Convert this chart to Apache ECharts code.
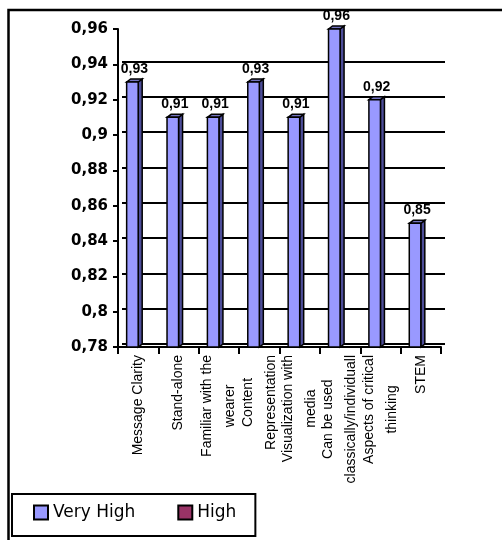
<!DOCTYPE html>
<html>
<head>
<meta charset="utf-8">
<script src="https://cdn.jsdelivr.net/npm/echarts@6/dist/echarts.min.js"></script>
<style>
  html, body { margin: 0; padding: 0; background: #fff; }
  #chart { width: 502px; height: 540px; }
</style>
</head>
<body>
<div id="chart"></div>
<script>
// Rated criteria along the category axis (line breaks mark the wrapped label lines)
const categories = [
  'Message Clarity',
  'Stand-alone',
  'Familiar with the\nwearer',
  'Content\nRepresentation',
  'Visualization with\nmedia',
  'Can be used\nclassically/individuall',
  'Aspects of critical\nthinking',
  'STEM'
];

// Share of "Very High" ratings per criterion
const veryHighValues = [0.93, 0.91, 0.91, 0.93, 0.91, 0.96, 0.92, 0.85];

// "High" ratings: no bar rises above the axis floor
const highValues = [null, null, null, null, null, null, null, null];

const seriesNames = ['Very High', 'High'];

// Value axis range and tick step
const yAxisMin = 0.78;
const yAxisMax = 0.96;
const yAxisStep = 0.02;

// Plot geometry
const PLOT = { left: 118, right: 61, top: 29, bottom: 193 };
const DEPTH = { x: 4, y: -3 };           // pseudo-3D offset of the back wall
const CHART_H = 540;

const unitPx = (CHART_H - PLOT.top - PLOT.bottom) / (yAxisMax - yAxisMin);
// The back wall carries gridlines up to one step below the axis top
const wallMax = +(yAxisMax - yAxisStep).toFixed(2);
const wallTop = PLOT.top + unitPx * yAxisStep + DEPTH.y;
const wallBottom = PLOT.bottom - DEPTH.y;

function fmt(v) {
  return String(+(+v).toFixed(2)).replace('.', ',');
}

function barRenderer(slot, fill, sideFill, topFill) {
  return function (params, api) {
    const v = api.value(1);
    if (v == null || isNaN(v)) return null;
    const i = api.value(0);
    const top = api.coord([i, v]);
    const base = api.coord([i, yAxisMin]);
    const band = api.size([1, 0])[0];
    const w = band / (2 + 1.5);
    const x0 = top[0] - w + slot * w;
    const x1 = x0 + w;
    const dx = DEPTH.x, dy = DEPTH.y;
    const edge = { stroke: '#000', lineWidth: 1.5, lineJoin: 'miter' };
    return {
      type: 'group',
      children: [
        {
          type: 'polygon',
          shape: { points: [[x1, top[1]], [x1 + dx, top[1] + dy], [x1 + dx, base[1] + dy], [x1, base[1]]] },
          style: Object.assign({ fill: sideFill }, edge)
        },
        {
          type: 'polygon',
          shape: { points: [[x0, top[1]], [x0 + dx, top[1] + dy], [x1 + dx, top[1] + dy], [x1, top[1]]] },
          style: Object.assign({ fill: topFill }, edge)
        },
        {
          type: 'rect',
          shape: { x: x0, y: top[1], width: w, height: base[1] - top[1] },
          style: Object.assign({ fill: fill }, edge)
        },
        {
          type: 'text',
          style: {
            text: fmt(v),
            x: (x0 + x1) / 2 + 2,
            y: top[1] + dy - 3,
            align: 'center',
            verticalAlign: 'bottom',
            fontFamily: '"Liberation Sans", Arial, sans-serif',
            fontWeight: 'bold',
            fontSize: 14,
            fill: '#000'
          }
        }
      ]
    };
  };
}

const chart = echarts.init(document.getElementById('chart'), null, { renderer: 'canvas' });

chart.setOption({
  animation: false,
  backgroundColor: '#fff',
  graphic: [{
    type: 'rect',
    z: -10,
    silent: true,
    shape: { x: 8.5, y: 10, width: 700, height: 700 },
    style: { fill: 'transparent', stroke: '#000', lineWidth: 2.5 }
  }],
  grid: [
    { left: PLOT.left, right: PLOT.right, top: PLOT.top, bottom: PLOT.bottom, outerBoundsMode: 'none', containLabel: false },
    { left: PLOT.left + DEPTH.x, right: PLOT.right - DEPTH.x, top: wallTop, bottom: wallBottom, outerBoundsMode: 'none', containLabel: false }
  ],
  xAxis: [
    {
      type: 'category',
      gridIndex: 0,
      data: categories,
      boundaryGap: true,
      axisLine: { show: true, lineStyle: { color: '#000', width: 2 } },
      axisTick: { show: true, interval: 0, length: 7, lineStyle: { color: '#000', width: 2 } },
      axisLabel: {
        interval: 0,
        rotate: 90,
        margin: 8,
        color: '#000',
        formatter: function (val) {
          return val.split('\n').map(function (s) { return '{c|' + s + '}'; }).join('\n');
        },
        rich: {
          c: {
            align: 'center',
            fontFamily: '"Liberation Sans", Arial, sans-serif',
            fontSize: 14,
            lineHeight: 23,
            color: '#000'
          }
        }
      },
      splitLine: { show: false }
    },
    {
      type: 'category',
      gridIndex: 1,
      data: categories,
      axisLine: { show: false },
      axisTick: { show: false },
      axisLabel: { show: false },
      splitLine: { show: false }
    }
  ],
  yAxis: [
    {
      type: 'value',
      gridIndex: 0,
      min: yAxisMin,
      max: yAxisMax,
      interval: yAxisStep,
      axisLine: { show: true, lineStyle: { color: '#000', width: 2 } },
      axisTick: { show: true, length: 5, lineStyle: { color: '#000', width: 2 } },
      axisLabel: {
        margin: 10,
        color: '#000',
        fontFamily: '"DejaVu Sans", sans-serif',
        fontWeight: 'bold',
        fontSize: 15,
        formatter: fmt
      },
      splitLine: { show: false }
    },
    {
      type: 'value',
      gridIndex: 1,
      min: yAxisMin,
      max: wallMax,
      interval: yAxisStep,
      axisLine: { show: false },
      axisTick: { show: false },
      axisLabel: { show: false },
      splitLine: { show: true, lineStyle: { color: '#000', width: 2 } }
    }
  ],
  legend: {
    data: seriesNames,
    left: 12,
    top: 494,
    orient: 'horizontal',
    icon: 'rect',
    itemWidth: 14,
    itemHeight: 14,
    itemGap: 42,
    padding: [10, 19, 15, 21],
    borderColor: '#000',
    borderWidth: 2,
    borderRadius: 0,
    backgroundColor: '#fff',
    itemStyle: { borderColor: '#000', borderWidth: 2 },
    textStyle: {
      color: '#000',
      fontFamily: '"DejaVu Sans", sans-serif',
      fontSize: 17
    },
    selectedMode: false
  },
  series: [
    {
      name: seriesNames[0],
      type: 'custom',
      xAxisIndex: 0,
      yAxisIndex: 0,
      z: 5,
      itemStyle: { color: '#9999FF', borderColor: '#000', borderWidth: 2 },
      encode: { x: 0, y: 1 },
      data: veryHighValues.map(function (v, i) { return [i, v]; }),
      renderItem: barRenderer(0, '#9999FF', '#4d4d99', '#7373bf')
    },
    {
      name: seriesNames[1],
      type: 'custom',
      xAxisIndex: 0,
      yAxisIndex: 0,
      z: 5,
      itemStyle: { color: '#993366', borderColor: '#000', borderWidth: 2 },
      encode: { x: 0, y: 1 },
      data: highValues.map(function (v, i) { return [i, v]; }),
      renderItem: barRenderer(1, '#993366', '#661f44', '#7a2952')
    }
  ]
});
</script>
</body>
</html>
